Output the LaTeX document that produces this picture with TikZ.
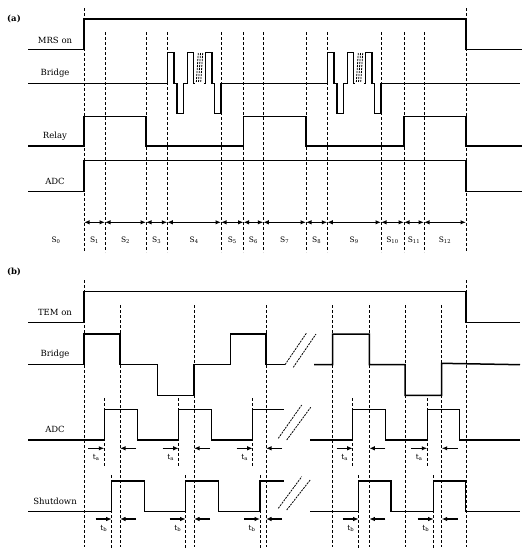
\documentclass[tikz,border=0pt]{standalone}
\usepackage{fontspec}
\setmainfont{DejaVu Serif}
\usetikzlibrary{arrows.meta, positioning}

\begin{document}
\begin{tikzpicture}[
      x=1pt, y=-1pt,
      sig/.style={line width=1.5pt, line join=miter},
      grid/.style={dashed, line width=0.8pt, dash pattern=on 3pt off 2pt},
      brk/.style={line width=0.8pt, dash pattern=on 2pt off 1pt},
      lbl/.style={font=\fontsize{8.5}{10}\selectfont},
      slbl/.style={font=\fontsize{7.5}{9}\selectfont},
      arr/.style={-{Latex[length=5.5pt, width=4.5pt]}, line width=1.2pt},
      darr/.style={{Latex[length=5.5pt, width=4.5pt]}-{Latex[length=5.5pt, width=4.5pt]}, line width=1.5pt}
    ]
      \useasboundingbox (0,0) rectangle (527,550);

      % ----- (a) MRS -----
      \node[font=\bfseries\fontsize{8.5}{10}\selectfont] (taga) at (14,19) {(a)};
      \node[lbl] (mrs)   at (55,40)  {MRS on};
      \node[lbl] (brga)  at (55,73)  {Bridge};
      \node[lbl] (relay) at (55,136) {Relay};
      \node[lbl] (adca)  at (55,181) {ADC};

      \draw[grid] (84,8) -- (84,252);
      \draw[grid] (466,8) -- (466,252);
      \foreach \x in {105,146,167.3,221,243.5,263.3,306,327.3,381,404,424}
        \draw[grid] (\x,32) -- (\x,252);

      \draw[sig] (28,49.5) -- (84,49.5) -- (84,19) -- (466,19) -- (466,49.5) -- (522,49.5);

      \draw[sig] (28,83.3) -- (167.3,83.3);
      \draw[sig] (221,83.3) -- (327.3,83.3);
      \draw[sig] (381,83.3) -- (520,83.3);
      \foreach \s in {167.3,327.3}{
        \draw[sig, xshift=\s] (0,83.3) -- (0,52.3) -- (6.7,52.3) -- (6.7,83.3) -- (9.7,83.3) -- (9.7,113.7)
          -- (16.4,113.7) -- (16.4,83.3) -- (20,83.3) -- (20,52.3) -- (26.4,52.3) -- (26.4,83.3) -- (28,83.3);
        \draw[sig, xshift=\s] (36.5,83.3) -- (38.4,83.3) -- (38.4,52.3) -- (44.7,52.3) -- (44.7,83.3)
          -- (47,83.3) -- (47,113.7) -- (53.7,113.7) -- (53.7,83.3);
        \foreach \d in {30,32.2,34.4}
          \draw[brk, xshift=\s] (\d+1,53) -- (\d-1,82.5);
      }

      \draw[sig] (28,146) -- (84,146) -- (84,116.3) -- (146,116.3) -- (146,146) -- (243.5,146) -- (243.5,116.3)
        -- (306,116.3) -- (306,146) -- (404,146) -- (404,116.3) -- (466,116.3) -- (466,146) -- (522,146);

      \draw[sig] (28,191.3) -- (84,191.3) -- (84,160.3) -- (466,160.3) -- (466,191.3) -- (522,191.3);

      % stages
      \foreach \a/\b in {84/105,105/146,146/167.3,167.3/221,221/243.5,243.5/263.3,263.3/306,306/327.3,327.3/381,381/404,404/424,424/466}
        \draw[darr] (\a,222.3) -- (\b,222.3);
      \node[slbl] (s0) at (56,240) {S\textsubscript{0}};
      \foreach \a/\b/\n in {84/105/1,105/146/2,146/167.3/3,167.3/221/4,221/243.5/5,243.5/263.3/6,263.3/306/7,306/327.3/8,327.3/381/9,381/404/10,404/424/11,424/466/12}
        \node[slbl] (s\n) at ({(\a+\b)/2},240) {S\textsubscript{\n}};

      % ----- (b) TEM -----
      \node[font=\bfseries\fontsize{8.5}{10}\selectfont] (tagb) at (14,271.7) {(b)};
      \node[lbl] (tem)  at (55,312.7) {TEM on};
      \node[lbl] (brgb) at (55,354)   {Bridge};
      \node[lbl] (adcb) at (55,429.3) {ADC};
      \node[lbl] (shut) at (55,501)   {Shutdown};

      \draw[grid] (84,280) -- (84,547);
      \draw[grid] (466,280) -- (466,547);
      \foreach \x in {120,194,266,332.7,369.3,405,441.7}
        \draw[grid] (\x,305) -- (\x,547);
      \foreach \x in {104.3,178.7,252.7,352.7,427.3}
        \draw[grid] (\x,398) -- (\x,467);
      \foreach \x in {111.7,185.7,260,358.7,433.7}
        \draw[grid] (\x,475) -- (\x,548);

      \draw[sig] (28,322.3) -- (84,322.3) -- (84,291.7) -- (466,291.7) -- (466,322.3) -- (520,322.3);

      \draw[sig] (28,364.7) -- (84,364.7) -- (84,334) -- (120,334) -- (120,364.7) -- (157.3,364.7) -- (157.3,395.3)
        -- (194,395.3) -- (194,364.7) -- (230.3,364.7) -- (230.3,334) -- (266,334) -- (266,364.7) -- (285,364.7);
      \draw[sig] (314,364.7) -- (332.7,364.7) -- (332.7,334) -- (369.3,334) -- (369.3,364.7) -- (405,364.7)
        -- (405,395.3) -- (441.7,395.3) -- (441.7,363.3) -- (520,364.7);

      \draw[sig] (28,440) -- (104.3,440) -- (104.3,409.3) -- (137.3,409.3) -- (137.3,440) -- (178.7,440) -- (178.7,409.3)
        -- (211.3,409.3) -- (211.3,440) -- (252.7,440) -- (252.7,409.3) -- (284,409.3);
      \draw[sig] (310,440) -- (352.7,440) -- (352.7,409.3) -- (385.3,409.3) -- (385.3,440) -- (427.3,440)
        -- (427.3,409.3) -- (459.7,409.3) -- (459.7,440) -- (520,440);

      \draw[sig] (28,511.7) -- (111.7,511.7) -- (111.7,481) -- (144.3,481) -- (144.3,511.7) -- (185.7,511.7) -- (185.7,481)
        -- (218.7,481) -- (218.7,511.7) -- (260,511.7) -- (260,481) -- (284,481);
      \draw[sig] (310,511.7) -- (358.7,511.7) -- (358.7,481) -- (391,481) -- (391,511.7) -- (433.7,511.7)
        -- (433.7,481) -- (465.7,481) -- (465.7,511.7) -- (520,511.7);

      % breaks
      \draw[brk] (285,364.7) -- (306.7,332.7);
      \draw[brk] (293.3,367.3) -- (316,334);
      \draw[brk] (278.3,438.3) -- (301.7,405);
      \draw[brk] (286.7,440) -- (310.7,407.3);
      \draw[brk] (278.3,508.3) -- (301.7,476.7);
      \draw[brk] (286.7,510) -- (310.7,479.3);

      % delays
      \foreach \r/\l [count=\i] in {104.3/120,178.7/194,252.7/266,352.7/369.3,427.3/441.7}{
        \draw[arr] (\r-16,448.3) -- (\r,448.3);
        \draw[arr] (\l+16,448.3) -- (\l,448.3);
        \node[slbl] (ta\i) at (\r-8,457.7) {t\textsubscript{a}};
      }
      \foreach \r/\l [count=\i] in {111.7/120,185.7/194,260/266,358.7/369.3,433.7/441.7}{
        \draw[arr] (\r-16,519) -- (\r,519);
        \draw[arr] (\l+16,519) -- (\l,519);
        \node[slbl] (tb\i) at (\r-8,528.3) {t\textsubscript{b}};
      }
    \end{tikzpicture}
\end{document}
